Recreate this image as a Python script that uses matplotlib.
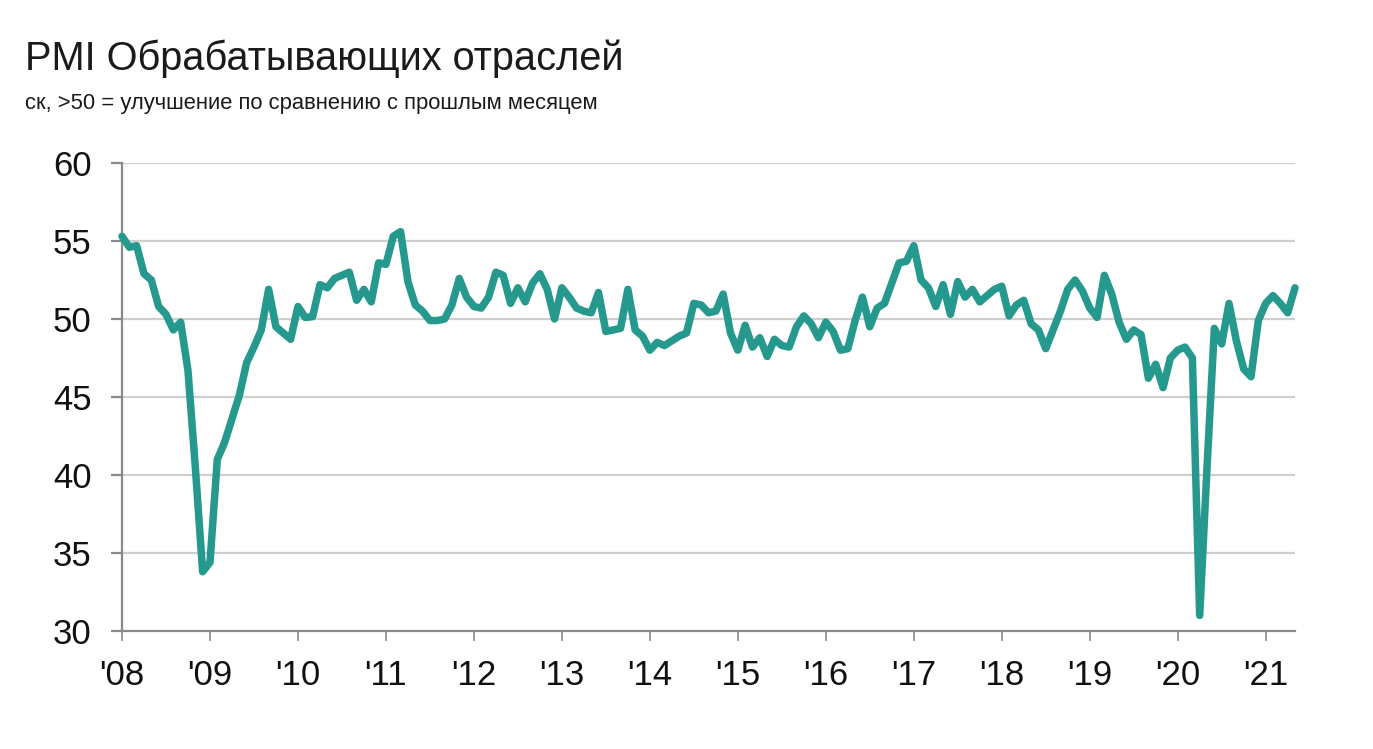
import matplotlib
matplotlib.use("Agg")
import matplotlib.pyplot as plt

# ---------------- data ----------------
start_year = 2008
pmi = [
    # 2008
    55.3, 54.6, 54.7, 52.9, 52.5, 50.8, 50.3, 49.3, 49.8, 46.7, 40.5, 33.8,
    # 2009
    34.4, 41.0, 42.1, 43.6, 45.1, 47.2, 48.2, 49.3, 51.9, 49.5, 49.1, 48.7,
    # 2010
    50.8, 50.1, 50.15, 52.2, 52.0, 52.6, 52.8, 53.0, 51.2, 51.9, 51.1, 53.6,
    # 2011
    53.5, 55.3, 55.6, 52.4, 50.9, 50.5, 49.9, 49.9, 50.0, 50.9, 52.6, 51.4,
    # 2012
    50.8, 50.7, 51.4, 53.0, 52.8, 51.0, 52.0, 51.1, 52.3, 52.9, 51.9, 50.0,
    # 2013
    52.0, 51.4, 50.7, 50.5, 50.4, 51.7, 49.2, 49.3, 49.4, 51.9, 49.3, 48.9,
    # 2014
    48.0, 48.5, 48.3, 48.6, 48.9, 49.1, 51.0, 50.9, 50.4, 50.5, 51.6, 49.1,
    # 2015
    48.0, 49.6, 48.2, 48.8, 47.6, 48.7, 48.3, 48.2, 49.5, 50.2, 49.7, 48.8,
    # 2016
    49.8, 49.2, 48.0, 48.1, 49.9, 51.4, 49.5, 50.7, 51.0, 52.3, 53.6, 53.7,
    # 2017
    54.7, 52.5, 52.0, 50.8, 52.2, 50.3, 52.4, 51.4, 51.9, 51.1, 51.5, 51.9,
    # 2018
    52.1, 50.2, 50.9, 51.2, 49.7, 49.3, 48.1, 49.3, 50.5, 51.9, 52.5, 51.8,
    # 2019
    50.7, 50.1, 52.8, 51.6, 49.8, 48.7, 49.3, 49.0, 46.2, 47.1, 45.6, 47.5,
    # 2020
    48.0, 48.2, 47.5, 31.0, 40.5, 49.4, 48.4, 51.0, 48.6, 46.8, 46.3, 49.9,
    # 2021
    51.0, 51.5, 51.0, 50.4, 52.0,
]
year_labels = ["'08", "'09", "'10", "'11", "'12", "'13", "'14",
               "'15", "'16", "'17", "'18", "'19", "'20", "'21"]
y_ticks = [30, 35, 40, 45, 50, 55, 60]

title = "PMI Обрабатывающих отраслей"
subtitle = "ск, >50 = улучшение по сравнению с прошлым месяцем"

# ---------------- style ----------------
plt.rcParams["font.family"] = ["Liberation Sans", "DejaVu Sans"]

line_color = "#26998f"
grid_color = "#cfcfcf"
axis_color = "#8a8a8a"

fig = plt.figure(figsize=(13.73, 7.49), dpi=100)
ax = fig.add_axes([122 / 1373, 1 - 631 / 749, (1295 - 122) / 1373, (631 - 163) / 749])

months = list(range(len(pmi)))
ax.plot(months, pmi, color=line_color, lw=5.4, solid_joinstyle="round",
        solid_capstyle="round", zorder=3, clip_on=False)

ax.set_xlim(0, len(pmi) - 1)
ax.set_ylim(30, 60)
ax.set_yticks(y_ticks)
ax.set_xticks([12 * i for i in range(len(year_labels))])
ax.set_xticklabels(year_labels)

for y in y_ticks[1:]:
    ax.axhline(y, color=grid_color, lw=1.6, zorder=1)

for s in ["top", "right"]:
    ax.spines[s].set_visible(False)
ax.spines["left"].set_color(axis_color)
ax.spines["left"].set_linewidth(1.6)
ax.spines["bottom"].set_color(axis_color)
ax.spines["bottom"].set_linewidth(1.6)

ax.tick_params(axis="y", direction="out", length=8, width=1.6, color=axis_color,
               labelsize=25, pad=14, labelcolor="#111111")
ax.tick_params(axis="x", direction="out", length=7, width=1.2, color=axis_color,
               labelsize=25, pad=13, labelcolor="#111111")

fig.text(25 / 1373, 1 - 70 / 749, title, fontsize=28.6, color="#1a1a1a",
         ha="left", va="baseline")
fig.text(25 / 1373, 1 - 109 / 749, subtitle, fontsize=15.8, color="#1a1a1a",
         ha="left", va="baseline")

fig.savefig("out.png", dpi=100, facecolor="white")
